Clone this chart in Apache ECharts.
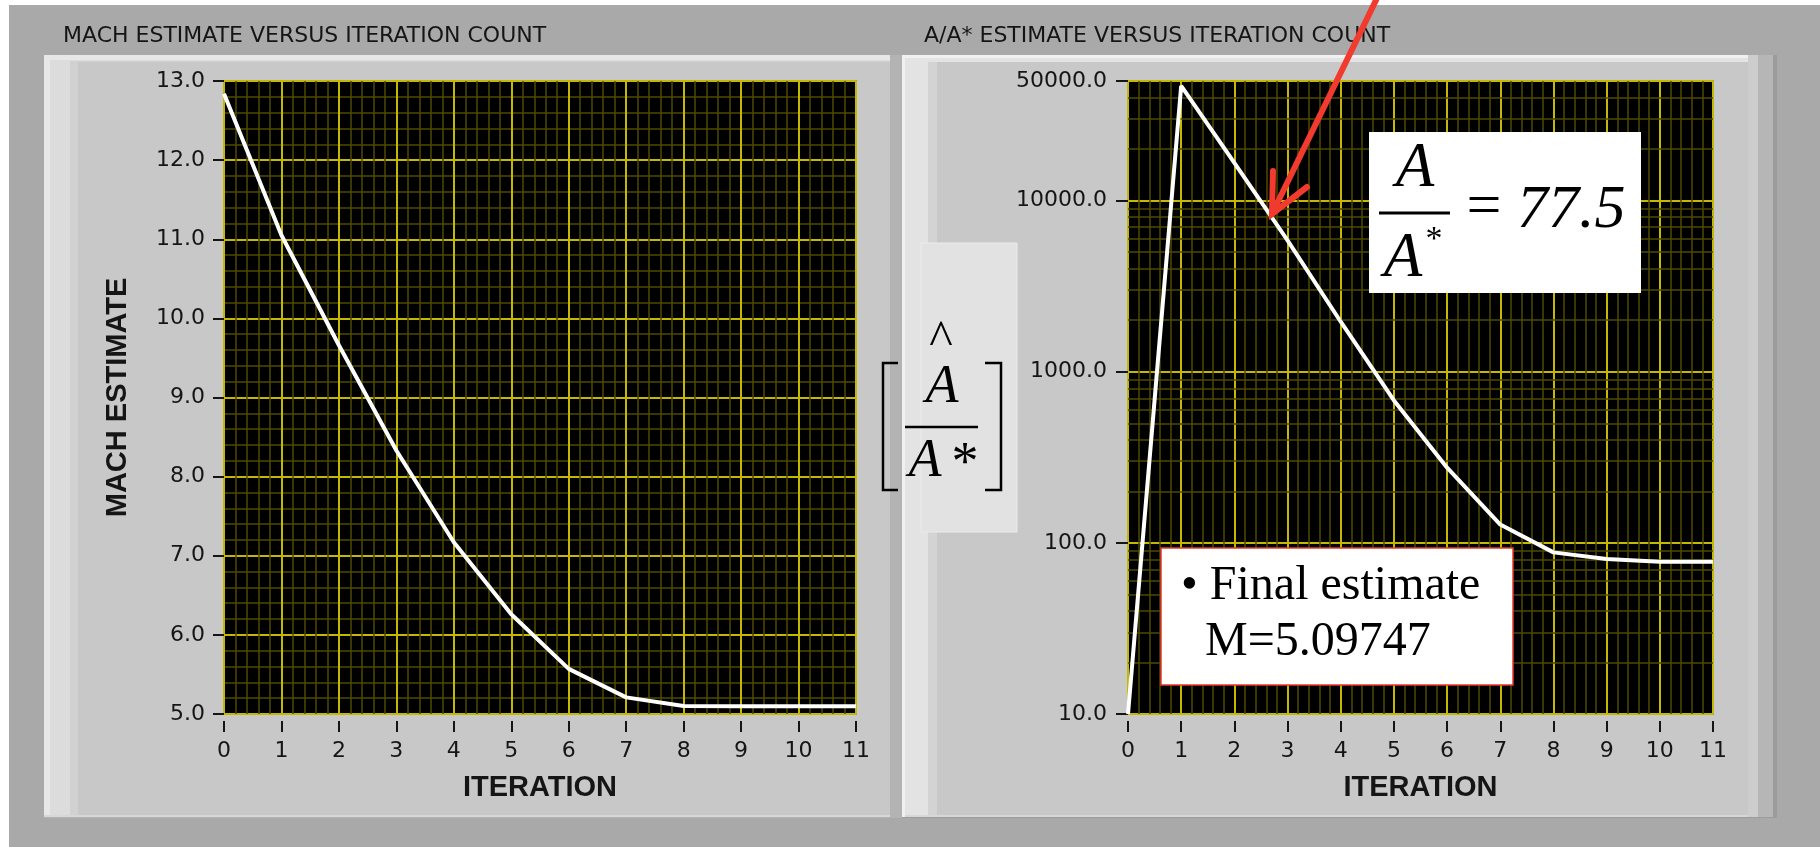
<!DOCTYPE html>
<html>
<head>
<meta charset="utf-8">
<title>Mach number iteration</title>
<style>
  html, body { margin: 0; padding: 0; background: #a9a9a9; }
  #chart { width: 1820px; height: 847px; }
</style>
<script src="https://cdn.jsdelivr.net/npm/echarts@6/dist/echarts.min.js"></script>
</head>
<body>
<div id="chart"></div>
<script>
// ---- data ---------------------------------------------------------------
const iterations = [0, 1, 2, 3, 4, 5, 6, 7, 8, 9, 10, 11];
const finalMach = 5.09747;
const targetAreaRatio = 77.5;
const machEstimate = [12.84, 11.05, 9.66, 8.33, 7.17, 6.26, 5.57, 5.21, 5.10, 5.098, finalMach, finalMach];
const areaRatioEstimate = [10, 46800, 16600, 5860, 1960, 680, 275, 128, 88, 80.5, 77.6, targetAreaRatio];

const iterationRange = [0, 11];
const machRange = [5, 13];
const areaRatioRange = [10, 50000];
// log-paper sub-decade grid levels
const areaRatioMinorLevels = [20, 30, 40, 50, 60, 70, 80, 90,
  200, 300, 400, 500, 600, 700, 800, 900,
  2000, 3000, 4000, 5000, 6000, 7000, 8000, 9000,
  20000, 30000, 40000];

const leftTitle = 'MACH ESTIMATE VERSUS ITERATION COUNT';
const rightTitle = 'A/A* ESTIMATE VERSUS ITERATION COUNT';

// ---- styling ------------------------------------------------------------
const MAJOR = '#c4b900';
const MINOR = '#4f4a00';
const INK = '#151515';
const SANS = 'DejaVu Sans';
const BOLD = 'Liberation Sans';
const SERIF = 'Liberation Serif';

function xAxisFor(gridIndex) {
  return {
    gridIndex, type: 'value', min: iterationRange[0], max: iterationRange[1], interval: 1,
    offset: 7,
    axisLine: { show: false },
    axisTick: { show: true, length: 11, lineStyle: { color: INK, width: 2 } },
    axisLabel: { margin: 19, color: INK, fontFamily: SANS, fontSize: 22, lineHeight: 22,
                 showMinLabel: true, showMaxLabel: true },
    splitLine: { show: true, lineStyle: { color: MAJOR, width: 2 } },
    minorTick: { show: false, splitNumber: 5 },
    minorSplitLine: { show: true, lineStyle: { color: MINOR, width: 1.5 } },
    name: 'ITERATION', nameLocation: 'middle', nameGap: 52,
    nameTextStyle: { fontFamily: BOLD, fontWeight: 'bold', fontSize: 29, color: INK, lineHeight: 29 }
  };
}

const oneDecimal = v => Number(v).toFixed(1);

const option = {
  animation: false,
  backgroundColor: '#a9a9a9',
  title: [
    { text: leftTitle, left: 63, top: 25, padding: 0,
      textStyle: { fontFamily: SANS, fontSize: 22, fontWeight: 'normal', color: INK, lineHeight: 22 } },
    { text: rightTitle, left: 924, top: 25, padding: 0,
      textStyle: { fontFamily: SANS, fontSize: 22, fontWeight: 'normal', color: INK, lineHeight: 22 } }
  ],
  grid: [
    { left: 224, top: 81, width: 632, height: 633, show: true,
      backgroundColor: '#000', borderColor: '#6a6a6a', borderWidth: 1.5 },
    { left: 1128, top: 81, width: 585, height: 633, show: true,
      backgroundColor: '#000', borderColor: '#6a6a6a', borderWidth: 1.5 }
  ],
  xAxis: [xAxisFor(0), xAxisFor(1)],
  yAxis: [
    {
      gridIndex: 0, type: 'value', min: machRange[0], max: machRange[1], interval: 1,
      offset: 6,
      axisLine: { show: false },
      axisTick: { show: true, length: 11, lineStyle: { color: INK, width: 2 } },
      axisLabel: { margin: 13, color: INK, fontFamily: SANS, fontSize: 22, formatter: oneDecimal,
                   showMinLabel: true, showMaxLabel: true },
      splitLine: { show: true, lineStyle: { color: MAJOR, width: 2 } },
      minorTick: { show: false, splitNumber: 5 },
      minorSplitLine: { show: true, lineStyle: { color: MINOR, width: 1.5 } },
      name: 'MACH ESTIMATE', nameLocation: 'middle', nameGap: 86, nameRotate: 90,
      nameTextStyle: { fontFamily: BOLD, fontWeight: 'bold', fontSize: 29, color: INK, lineHeight: 29 }
    },
    {
      gridIndex: 1, type: 'log', logBase: 10, min: areaRatioRange[0], max: areaRatioRange[1],
      offset: 6,
      axisLine: { show: false },
      axisTick: { show: true, length: 12, lineStyle: { color: INK, width: 2 } },
      axisLabel: { margin: 15, color: INK, fontFamily: SANS, fontSize: 22, formatter: oneDecimal,
                   showMinLabel: true, showMaxLabel: true },
      splitLine: { show: true, lineStyle: { color: MAJOR, width: 2 } }
    }
  ],
  series: [
    {
      name: 'Mach estimate', type: 'line', xAxisIndex: 0, yAxisIndex: 0,
      data: iterations.map((it, i) => [it, machEstimate[i]]),
      showSymbol: false, symbol: 'none', silent: true,
      lineStyle: { color: '#ffffff', width: 4 }, z: 3
    },
    {
      name: 'A/A* estimate', type: 'line', xAxisIndex: 1, yAxisIndex: 1,
      data: iterations.map((it, i) => [it, areaRatioEstimate[i]]),
      showSymbol: false, symbol: 'none', silent: true,
      lineStyle: { color: '#ffffff', width: 4 }, z: 3,
      markLine: {
        silent: true, symbol: ['none', 'none'], z: 1, animation: false,
        label: { show: false },
        emphasis: { disabled: true },
        lineStyle: { color: MINOR, width: 1.5, type: 'solid' },
        data: areaRatioMinorLevels.map(v => ({ yAxis: v }))
      }
    }
  ],
  graphic: { elements: [] }
};

// ---- instrument panel frames and annotations ---------------------------
const g = option.graphic.elements;
function rect(x, y, w, h, fill, z, extra) {
  g.push(Object.assign({ type: 'rect', silent: true, z: z,
    shape: { x, y, width: w, height: h }, style: { fill } }, extra || {}));
}
function label(text, x, y, font, align, z, fill) {
  g.push({ type: 'text', silent: true, z: z,
    style: { text, x, y, font, fill: fill || '#000', align: align || 'center', verticalAlign: 'middle' } });
}
function stroke(points, width, color, z, cap) {
  g.push({ type: 'polyline', silent: true, z: z, shape: { points },
    style: { stroke: color, lineWidth: width, fill: null, lineCap: cap || 'butt', lineJoin: 'miter' } });
}

// outer margins
rect(0, 0, 1820, 5, '#ffffff', -20);
rect(0, 0, 9, 847, '#ffffff', -20);

// left panel
rect(44, 55, 858, 763, '#b3b3b3', -19);
rect(44, 55, 846, 762, '#e7e7e7', -18);
rect(50, 60, 840, 755, '#dcdcdc', -17);
rect(70, 61, 820, 754, '#d1d1d1', -16);
rect(78, 62, 812, 753, '#c8c8c8', -15);
rect(44, 815, 846, 2, '#d7d7d7', -15);

// right panel
rect(902, 55, 875, 763, '#9c9c9c', -19);
rect(902, 55, 871, 762, '#b6b6b6', -18);
rect(902, 55, 856, 762, '#cdcdcd', -17);
rect(902, 55, 846, 762, '#f0f0f0', -16);
rect(905, 58, 843, 759, '#e3e3e3', -15);
rect(928, 62, 820, 755, '#d3d3d3', -14);
rect(937, 62, 811, 753, '#c8c8c8', -13);
rect(905, 815, 843, 2, '#d7d7d7', -13);

// bracketed A-hat / A* axis label
rect(921, 243, 96, 289, '#e2e2e2', 40, { style: { fill: '#e2e2e2', stroke: '#ebebeb', lineWidth: 1 } });
stroke([[898, 363], [883, 363], [883, 490], [898, 490]], 2.5, '#000', 41);
stroke([[985, 363], [1001, 363], [1001, 490], [985, 490]], 2.5, '#000', 41);
stroke([[905, 427], [978, 427]], 2.5, '#000', 41);
label('^', 941, 342, '50px "' + SERIF + '"', 'center', 41);
label('A', 942, 388, 'italic 54px "' + SERIF + '"', 'center', 41);
label('A', 925, 462, 'italic 54px "' + SERIF + '"', 'center', 41);
label('*', 965, 465, '54px "' + SERIF + '"', 'center', 41);

// target ratio callout
rect(1369, 132, 272, 161, '#ffffff', 60);
label('A', 1415, 169, 'italic 63px "' + SERIF + '"', 'center', 61);
stroke([[1379, 213], [1450, 213]], 3, '#000', 61);
label('A', 1403, 259, 'italic 63px "' + SERIF + '"', 'center', 61);
label('*', 1434, 240, '34px "' + SERIF + '"', 'center', 61);
label('=', 1484, 209, '62px "' + SERIF + '"', 'center', 61);
label(String(targetAreaRatio), 1517, 211, 'italic 62px "' + SERIF + '"', 'left', 61);

// red arrow
stroke([[1379, -6], [1272, 214]], 6, '#f23a2e', 70, 'round');
stroke([[1273, 171], [1272, 214], [1307, 187]], 6, '#f23a2e', 70, 'round');

// final estimate callout
rect(1161, 548, 352, 137, '#ffffff', 60, { style: { fill: '#ffffff', stroke: '#e8382c', lineWidth: 1.5 } });
label('\u2022 Final estimate', 1181, 586, '48px "' + SERIF + '"', 'left', 61);
label('M=' + finalMach, 1205, 642, '48px "' + SERIF + '"', 'left', 61);

const chart = echarts.init(document.getElementById('chart'), null, { renderer: 'canvas' });
chart.setOption(option);
</script>
</body>
</html>
